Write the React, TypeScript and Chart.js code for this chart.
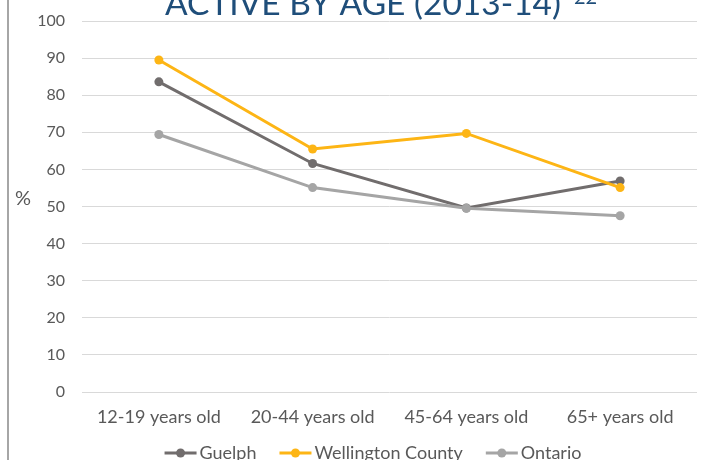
import React, { useEffect, useRef } from "react";
import { Chart, registerables } from "chart.js";

Chart.register(...registerables);

const categories = ["12-19 years old", "20-44 years old", "45-64 years old", "65+ years old"];
const guelph = [83.6, 61.6, 49.6, 56.9];
const wellington = [89.5, 65.5, 69.7, 55.1];
const ontario = [69.4, 55.1, 49.5, 47.5];
const seriesNames = ["Guelph", "Wellington County", "Ontario"];
const seriesColors = ["#716d6d", "#fdb515", "#a5a5a5"];
const titleText = "ACTIVE BY AGE (2013-14)";
const titleNote = "22";
const yAxisLabel = "%";

const FONT = "Lato, 'Open Sans', sans-serif";

const decorPlugin = {
  id: "decor",
  afterDraw(chart: any) {
    const ctx = chart.ctx as CanvasRenderingContext2D;
    ctx.save();
    // left vertical rule
    ctx.fillStyle = "#a6a6a6";
    ctx.fillRect(7, 0, 2, chart.height);

    // title
    ctx.fillStyle = "#1f4e7a";
    ctx.textBaseline = "alphabetic";
    ctx.textAlign = "left";
    ctx.font = `33.5px ${FONT}`;
    ctx.fillText(titleText, 165, 15);
    ctx.font = `20px ${FONT}`;
    ctx.fillText(titleNote, 574, 4);

    // y-axis label
    ctx.fillStyle = "#595959";
    ctx.font = `20px ${FONT}`;
    ctx.textAlign = "center";
    ctx.textBaseline = "middle";
    ctx.fillText(yAxisLabel, 23, 199);

    // legend
    ctx.font = `18px ${FONT}`;
    ctx.textAlign = "left";
    const lineW = 32;
    const gapText = 3;
    const gapItem = 23;
    const widths = seriesNames.map((n) => lineW + gapText + ctx.measureText(n).width);
    const total = widths.reduce((a, b) => a + b, 0) + gapItem * (seriesNames.length - 1);
    let x = 373 - total / 2;
    const y = 453;
    seriesNames.forEach((n, i) => {
      ctx.strokeStyle = seriesColors[i];
      ctx.lineWidth = 3;
      ctx.beginPath();
      ctx.moveTo(x, y);
      ctx.lineTo(x + lineW, y);
      ctx.stroke();
      ctx.fillStyle = seriesColors[i];
      ctx.beginPath();
      ctx.arc(x + lineW / 2, y, 4.5, 0, Math.PI * 2);
      ctx.fill();
      ctx.fillStyle = "#595959";
      ctx.fillText(n, x + lineW + gapText, y);
      x += widths[i] + gapItem;
    });
    ctx.restore();
  },
};

export default function App() {
  const ref = useRef<HTMLCanvasElement | null>(null);
  useEffect(() => {
    if (!ref.current) return;
    const series = [guelph, wellington, ontario];
    const chart = new Chart(ref.current, {
      type: "line",
      data: {
        labels: categories,
        datasets: series.map((d, i) => ({
          label: seriesNames[i],
          data: d,
          borderColor: seriesColors[i],
          backgroundColor: seriesColors[i],
          pointBackgroundColor: seriesColors[i],
          pointBorderWidth: 0,
          pointRadius: 4.5,
          borderWidth: 3,
          tension: 0,
          order: 3 - i,
        })),
      },
      options: {
        animation: false,
        responsive: false,
        maintainAspectRatio: false,
        events: [],
        layout: { padding: { top: 21, right: 5, left: 0, bottom: 0 } },
        plugins: {
          legend: { display: false },
          title: { display: false },
          tooltip: { enabled: false },
        },
        scales: {
          x: {
            offset: true,
            grid: { display: false },
            border: { display: false },
            ticks: {
              color: "#595959",
              font: { family: FONT, size: 18 },
              padding: 6,
              maxRotation: 0,
            },
            afterFit(scale: any) {
              scale.height = 68;
            },
          },
          y: {
            min: 0,
            max: 100,
            grid: { color: "#d9d9d9", lineWidth: 1, drawTicks: false },
            border: { display: false },
            ticks: {
              stepSize: 10,
              color: "#595959",
              font: { family: FONT, size: 16 },
              padding: 17,
            },
            afterFit(scale: any) {
              scale.width = 82;
              scale.paddingTop = 0;
              scale.paddingBottom = 0;
            },
          },
        },
      },
      plugins: [decorPlugin],
    });
    return () => chart.destroy();
  }, []);
  return (
    <div style={{ position: "absolute", left: 0, top: 0, width: 702, height: 460, overflow: "hidden" }}>
      <canvas ref={ref} width={702} height={460} style={{ width: 702, height: 460, display: "block" }} />
    </div>
  );
}
